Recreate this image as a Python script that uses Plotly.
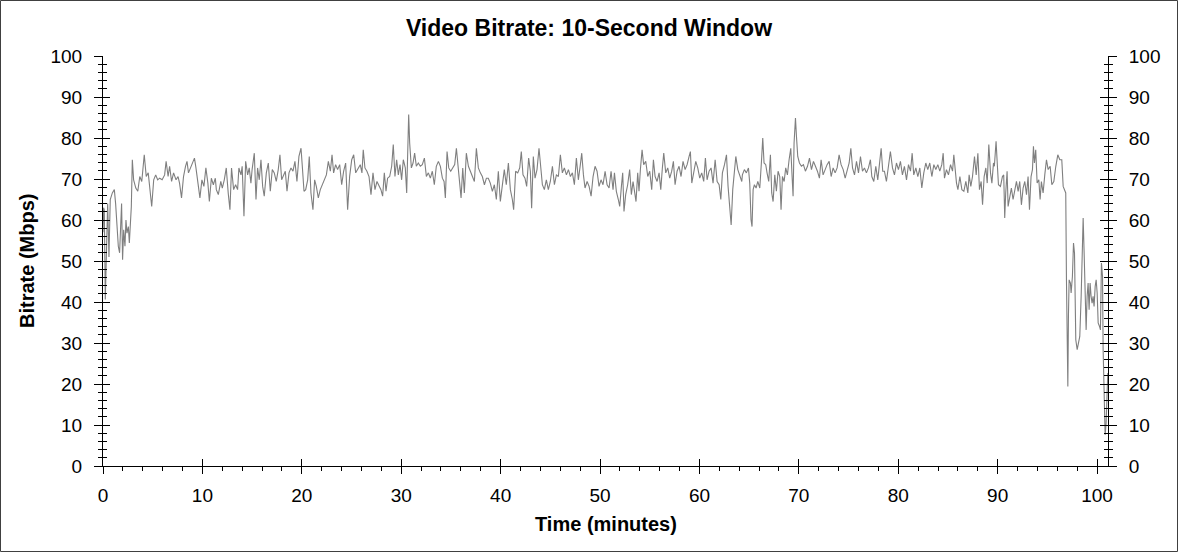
import plotly.graph_objects as go

# bitrate samples (time in minutes, bitrate in Mbps)
time_min = [
    0.0, 0.06, 0.13, 0.23, 0.33, 0.47, 0.6, 0.73, 0.94, 1.14, 1.27, 1.41, 1.54, 1.67, 1.77, 1.87, 1.97,
    2.08, 2.21, 2.31, 2.41, 2.55, 2.65, 2.75, 2.85, 2.95, 3.08,
    3.3, 3.5, 3.7, 3.9, 4.15, 4.35, 4.55, 4.75, 4.9, 5.1, 5.3, 5.5, 5.7, 5.95, 6.2, 6.35, 6.55, 6.7,
    6.9, 7.1, 7.35, 7.55, 7.7, 7.9, 8.1, 8.3, 8.45, 8.6, 8.8, 9.0, 9.2, 9.35, 9.55, 9.75, 9.95, 10.15,
    10.35, 10.55, 10.7, 10.9, 11.1, 11.3, 11.4, 11.6, 11.85, 12.0, 12.2, 12.4,
    12.6, 12.77, 12.93, 13.14, 13.34, 13.54, 13.67, 13.88, 14.0, 14.18, 14.35, 14.55, 14.71, 14.88,
    15.0, 15.22, 15.39, 15.55, 15.72, 15.89, 16.06, 16.22, 16.43, 16.63, 16.83, 17.03, 17.23, 17.43,
    17.63, 17.8, 17.97, 18.17, 18.34, 18.51, 18.71, 18.91, 19.11, 19.31, 19.51, 19.71, 19.92, 20.05,
    20.22, 20.39, 20.59, 20.75, 20.92, 21.12, 21.29, 21.46, 21.66, 21.86, 22.06, 22.26, 22.47, 22.67,
    22.87, 23.04, 23.2, 23.4, 23.6, 23.81, 24.01, 24.21, 24.41, 24.61, 24.81, 25.02, 25.22, 25.42, 25.62,
    25.88, 26.05, 26.18, 26.35, 26.55, 26.76, 26.96, 27.16, 27.36, 27.56, 27.76, 27.96, 28.13, 28.3,
    28.47, 28.63, 28.84, 29.04, 29.2, 29.37, 29.54, 29.71, 29.88, 30.04, 30.21, 30.41, 30.55, 30.68,
    30.75, 30.85, 31.02, 31.19, 31.35, 31.52, 31.72, 31.92, 32.12, 32.33, 32.53, 32.73, 32.93, 33.13,
    33.33, 33.53, 33.74, 33.94, 34.14, 34.31, 34.44, 34.61, 34.78, 34.98, 35.18, 35.38, 35.55, 35.72,
    35.88, 36.02, 36.19, 36.35, 36.55, 36.76, 36.96, 37.16, 37.36, 37.56, 37.76, 37.96, 38.16, 38.37, 38.57,
    38.76, 38.96, 39.17, 39.37, 39.57, 39.77, 39.97, 40.17, 40.37, 40.57, 40.78, 40.98, 41.18, 41.31,
    41.51, 41.72, 41.92, 42.08, 42.25, 42.45, 42.62, 42.82, 42.99, 43.12, 43.29, 43.46, 43.66, 43.86,
    44.03, 44.2, 44.4, 44.6, 44.8, 45.0, 45.21, 45.41, 45.61, 45.81, 46.01, 46.21, 46.41, 46.62, 46.82,
    47.02, 47.22, 47.42, 47.62, 47.82, 48.02, 48.16, 48.33, 48.49, 48.7, 48.9, 49.1, 49.3, 49.5, 49.7,
    49.9, 50.1, 50.3, 50.51, 50.71, 50.91, 51.11, 51.31, 51.45,
    51.64, 51.84, 51.98, 52.15, 52.28, 52.41, 52.58, 52.78, 52.98, 53.15, 53.32, 53.49, 53.62, 53.79,
    53.92, 54.06, 54.23, 54.39, 54.6, 54.8, 55.0, 55.2, 55.37, 55.54, 55.74, 55.94, 56.11, 56.27, 56.41,
    56.61, 56.81, 57.01, 57.21, 57.38, 57.55, 57.75, 57.95, 58.15, 58.35, 58.56, 58.76, 58.96, 59.09,
    59.23, 59.43, 59.63, 59.83, 60.03, 60.23, 60.43, 60.6, 60.77, 60.97, 61.17, 61.37, 61.58, 61.78,
    61.98, 62.15, 62.31, 62.52, 62.72, 62.88, 63.05, 63.19, 63.35, 63.52, 63.66, 63.86, 64.06, 64.26,
    64.32, 64.52, 64.72, 64.93, 65.06, 65.19, 65.29, 65.4, 65.53, 65.7, 65.87, 66.07, 66.23, 66.37,
    66.5, 66.67, 66.8, 66.97, 67.14, 67.27, 67.41, 67.58, 67.74, 67.91, 68.08, 68.21, 68.35, 68.52,
    68.68, 68.85, 69.02, 69.19, 69.32, 69.42, 69.52, 69.66, 69.76, 69.89, 70.06, 70.26, 70.46, 70.66,
    70.87, 71.07, 71.27, 71.47, 71.67, 71.87, 72.07, 72.24, 72.44, 72.64, 72.84, 73.05, 73.25, 73.45,
    73.65, 73.85, 74.05, 74.25, 74.46, 74.66, 74.86, 75.06, 75.23, 75.4, 75.6, 75.8, 76.0, 76.2, 76.4,
    76.6, 76.8, 77.0, 77.2,
    77.34, 77.54, 77.74, 77.94, 78.14, 78.28, 78.44, 78.61, 78.81, 79.01, 79.21, 79.42, 79.62, 79.82,
    80.02, 80.22, 80.42, 80.62, 80.83, 81.03, 81.23, 81.4, 81.56, 81.77, 81.97, 82.17, 82.37, 82.57,
    82.77, 82.97, 83.17, 83.38, 83.58, 83.78, 83.98, 84.18, 84.38, 84.52, 84.65, 84.85, 85.05, 85.26,
    85.46, 85.59, 85.72, 85.86, 86.0, 86.2, 86.4, 86.6, 86.8, 87.0, 87.13, 87.3, 87.47, 87.67, 87.84,
    88.01, 88.17, 88.34, 88.48, 88.64, 88.81, 88.95, 89.11, 89.28, 89.42, 89.58,
    89.67, 89.84, 89.94, 90.08, 90.28, 90.48, 90.61, 90.71, 90.81, 90.95, 91.05, 91.22, 91.38, 91.55,
    91.72, 91.89, 92.06, 92.22, 92.39, 92.56, 92.73, 92.9, 93.06, 93.2, 93.36, 93.5, 93.6, 93.7, 93.83,
    93.97, 94.14, 94.27, 94.4, 94.57, 94.74, 94.91, 95.08, 95.28, 95.45, 95.65, 95.85, 96.05, 96.25,
    96.45, 96.59, 96.72, 96.85, 96.92, 96.99, 97.06, 97.12, 97.19, 97.32, 97.39, 97.52, 97.63, 97.73,
    97.86, 98.0, 98.13, 98.26, 98.4, 98.53, 98.6, 98.7, 98.8, 98.9, 99.0, 99.1, 99.2, 99.3, 99.4, 99.5,
    99.6, 99.7, 99.81, 99.91, 100.01, 100.11, 100.24, 100.34, 100.44, 100.55, 100.61, 100.68, 100.74,
    100.81, 100.91, 101.01, 101.08,
]
bitrate_mbps = [
    57, 63, 62.5, 40.6, 52, 64, 51, 65, 66.6, 67.4, 64, 56.8, 53.6, 52, 60.9, 64, 50.3,
    57.6, 53.6, 60, 56.8, 58.4, 54.4, 60.9, 63.3, 74.7, 69.8,
    67.8, 67, 70.6, 69.4, 75.9, 70.6, 71.5, 67.4, 63.3, 69.8, 71, 69.8, 70.2, 69.8, 71, 74.3, 70.6, 73.1,
    69.4, 71.5, 69.8, 70.6, 69, 65.4, 70.6, 73.1, 74.3, 71.5, 72.7, 73.9, 75.1, 72.7, 69, 65.4, 69.8, 68.2,
    72.7, 69, 64.5, 70.2, 68.6, 70.2, 67.4, 66.2, 69.4, 67.8, 69.8, 72.7,
    66.5, 62.5, 72.7, 67.4, 68.6, 67.4, 72.7, 71, 73.1, 60.9, 74.3, 71, 72.7, 69,
    72.3, 76.3, 65, 72.7, 69.8, 74.7, 68.2, 65.8, 71.5, 73.9, 67, 72.3, 71.5, 69.4,
    72.3, 75.9, 69.8, 71, 71.9, 67, 71.5, 72.7, 71.9, 74.3, 69.4, 75.5, 77.5, 73.1,
    67, 67.4, 69.8, 75.5, 66.6, 62.5, 69.8, 68.2, 65.4, 67.4, 68.6, 69.8, 71, 74.3,
    71.9, 75.9, 71.5, 73.5, 72.3, 73.5, 68.6, 71.9, 73.9, 62.5, 70.6, 74.7, 75.9, 71.5, 72.3,
    73.5, 71.5, 77.1, 72.7, 71.9, 70.6, 66.2, 71.5, 67.4, 69.4, 68.2, 67.4, 65.8, 71.5,
    67, 70.2, 70.6, 73.1, 78.4, 70.6, 74.7, 71, 73.5, 69.8, 74.7, 72.7, 66.6, 80.4,
    85.7, 78.8, 72.7, 73.9, 76.3, 73.1, 73.9, 73.1, 73.5, 75.1, 70.6, 71.5, 70.2, 71.9,
    68.6, 73.1, 74.3, 73.1, 70.2, 69.4, 65.4, 76.7, 72.7, 71.9, 72.7, 73.5, 77.5, 71.9,
    69, 65.4, 72.7, 66.6, 76.3, 73.1, 71.9, 71, 69.4, 77.5, 72.7, 71.5, 70.6, 68.6, 70.2,
    70.2, 69, 67, 68.6, 65, 71.9, 64.5, 68.6, 72.3, 68.6, 73.9, 67.4, 65, 62.5,
    71.9, 71.5, 72.7, 76.7, 71, 70.2, 68.2, 75.1, 71.9, 62.9, 75.5, 70.2, 72.3, 77.5,
    72.3, 68.6, 67.4, 69.8, 67.4, 69.4, 73.1, 68.6, 71, 70.6, 75.9, 71.5, 72.7, 71, 72.3,
    70.6, 71.5, 68.6, 75.1, 69.8, 73.5, 76.3, 71, 67.8, 69.4, 68.2, 65.8, 70.6, 73.1, 71.9,
    68.2, 69.8, 68.6, 71.9, 68.6, 67.8, 71.9, 67.4, 71.5,
    67, 65, 63.3, 68.2, 71.5, 62.1, 66.2, 68.6, 72.3, 66.2, 69.4, 66.6, 64.5, 71.5,
    67, 72.3, 77.1, 73.5, 74.3, 70.6, 71.9, 67.4, 74.7, 70.6, 69.4, 71.5, 67.4, 72.7, 76.3,
    71.5, 72.7, 70.2, 71.9, 74.3, 68.6, 71.9, 73.1, 70.6, 74.3, 72.3, 73.5, 75.5, 76.7,
    69, 71.9, 74.3, 72.7, 70.2, 71.5, 69.4, 75.1, 69.8, 71.9, 72.7, 69, 74.7, 69.4,
    68.6, 65, 71.5, 73.5, 75.9, 68.2, 63.3, 58.8, 67.4, 72.7, 75.5, 72.3, 70.6, 69.4,
    71, 72.3, 71.5, 72.7, 69, 60.1, 58.4, 67.4, 68.6, 67.8, 69.4, 67.8, 73.9, 80,
    73.9, 73.5, 71.5, 69.4, 75.9, 66.6, 64.5, 71, 67, 71.9, 70.6, 62.5, 70.6, 69.4,
    72.7, 71, 74.7, 77.5, 70.6, 65.8, 78.8, 84.9, 80.4, 75.5, 73.9, 73.1, 73.5, 71.9,
    73.1, 75.1, 72.3, 74.3, 73.1, 71.9, 70.2, 74.7, 71, 72.3, 73.5, 74.3, 70.6, 72.7,
    71.5, 72.7, 75.9, 73.5, 72.3, 70.2, 72.3, 73.9, 77.5, 72.7, 71, 74.3, 71.5, 75.5, 71.9,
    72.7, 71.5, 72.7, 74.7,
    70.6, 69.4, 73.1, 69.8, 73.9, 77.5, 71.9, 71.9, 69.4, 73.9, 76.7, 72.7, 71, 73.9,
    72.3, 74.3, 71, 73.1, 69.8, 73.5, 71.9, 76.3, 71, 72.7, 70.6, 72.7, 67.8, 71.5,
    73.9, 72.3, 73.9, 70.6, 73.5, 72.3, 73.5, 71.9, 73.5, 76.3, 70.2, 72.3, 71, 73.5,
    71.9, 75.9, 72.3, 69, 67.4, 70.6, 67.4, 67, 69.4, 66.6, 71, 68.2, 70.6, 75.5, 71,
    76.3, 67.4, 69.4, 63.7, 70.6, 72.7, 69, 78.4, 71.5, 69, 73.9,
    73.1, 79.2, 74.7, 68.6, 68.2, 70.6, 71, 60.5, 66.6, 71.9, 63.3, 66.2, 67.8, 65,
    67.4, 69.4, 67, 69.4, 63.7, 67.8, 69.4, 66.2, 70.6, 62.5, 70.6, 72.3, 78, 73.9, 77.1,
    69, 69.8, 65, 69.4, 66.6, 71, 74.7, 72.3, 73.1, 68.6, 69.4, 73.1, 75.9, 74.7,
    74.7, 68.2, 67.4, 66.6, 45.4, 31.6, 19.4, 36.5, 45.4, 44.6, 42.2, 46.2, 54.4, 51.9,
    30.8, 28.4, 30, 31.6, 41.4, 53.6, 60.5, 51.9, 39.7, 33.2, 41.4, 44.6, 38.1, 44.6, 41.4, 39.7,
    41.4, 38.9, 43.8, 45.4, 42.2, 34.9, 34.1, 33.2, 49.5, 46.2, 28.4, 17, 8,
    7.6, 10.5, 20.2, 22.7,
]

x_range = [0, 101.1]
y_range = [0, 100]

font_family = "Arial, Liberation Sans, sans-serif"

fig = go.Figure()
fig.add_trace(go.Scatter(
    x=time_min, y=bitrate_mbps, mode="lines",
    line=dict(color="#7f7f7f", width=1.1),
    showlegend=False, hoverinfo="skip",
))
# empty traces only so the extra tick axes get drawn
for xa, ya in [("x2", "y2"), ("x", "y3"), ("x", "y4")]:
    fig.add_trace(go.Scatter(x=[None], y=[None], xaxis=xa, yaxis=ya,
                             showlegend=False, hoverinfo="skip"))

tick_font = dict(family=font_family, size=19, color="black")
label_font = dict(family=font_family, size=20, color="black")
common = dict(showgrid=False, zeroline=False, tickcolor="black", tickwidth=1)

fig.update_layout(
    width=1178, height=552,
    margin=dict(l=103, r=70, t=56, b=86),
    paper_bgcolor="white", plot_bgcolor="white",
    font=dict(family=font_family, color="black"),
    title=dict(text="<b>Video Bitrate: 10-Second Window</b>",
               x=0.5, xanchor="center", xref="container",
               y=1 - 28 / 552, yref="container", yanchor="middle",
               font=dict(family=font_family, size=23, color="black")),
    xaxis=dict(range=x_range, showline=True, linecolor="black", linewidth=1,
               ticks="outside", ticklen=7, dtick=10, tick0=0,
               minor=dict(ticks="outside", ticklen=4, dtick=2, tickcolor="black"),
               tickfont=tick_font, ticklabelstandoff=5, **common),
    xaxis2=dict(range=x_range, overlaying="x", anchor="y", side="bottom",
                showline=False, ticks="inside", ticklen=7, dtick=10, tick0=0,
                showticklabels=False, **common),
    yaxis=dict(range=y_range, showline=True, linecolor="black", linewidth=1,
               ticks="outside", ticklen=8, dtick=10, tick0=0,
               minor=dict(ticks="outside", ticklen=4, dtick=2, tickcolor="black"),
               tickfont=tick_font, ticklabelstandoff=8, **common),
    yaxis2=dict(range=y_range, overlaying="y", anchor="x", side="right",
                showline=True, linecolor="black", linewidth=1,
                ticks="outside", ticklen=8, dtick=10, tick0=0,
                minor=dict(ticks="outside", ticklen=4, dtick=2, tickcolor="black"),
                tickfont=tick_font, ticklabelstandoff=8, **common),
    yaxis3=dict(range=y_range, overlaying="y", anchor="x", side="left",
                ticks="inside", ticklen=7, dtick=10, tick0=0, showticklabels=False,
                minor=dict(ticks="inside", ticklen=4, dtick=2, tickcolor="black"),
                **common),
    yaxis4=dict(range=y_range, overlaying="y", anchor="x", side="right",
                ticks="inside", ticklen=8, dtick=10, tick0=0, showticklabels=False,
                minor=dict(ticks="inside", ticklen=4, dtick=2, tickcolor="black"),
                **common),
    annotations=[
        dict(text="<b>Time (minutes)</b>", xref="paper", yref="paper",
             x=0.5, y=-(524 - 466) / 410, xanchor="center", yanchor="middle",
             showarrow=False, font=label_font),
        dict(text="<b>Bitrate (Mbps)</b>", xref="paper", yref="paper",
             x=(27 - 103) / 1005, y=0.5, xanchor="center", yanchor="middle",
             textangle=-90, showarrow=False, font=label_font),
    ],
    shapes=[
        dict(type="rect", xref="paper", yref="paper",
             x0=-102.5 / 1005, x1=1 + 69.5 / 1005,
             y0=-85.5 / 410, y1=1 + 55.5 / 410,
             line=dict(color="#404040", width=1), fillcolor="rgba(0,0,0,0)", layer="below"),
    ],
)

# drop the page's default body margin so the figure sits at the window corner
fig.write_html("out.html", config={"displayModeBar": False},
               post_script="document.body.style.margin='0';")
